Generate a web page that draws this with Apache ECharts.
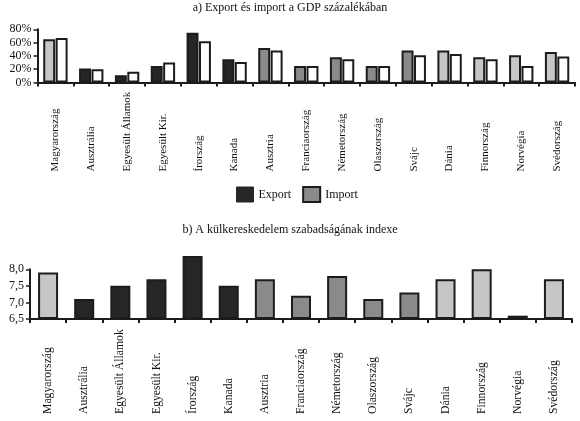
<!DOCTYPE html>
<html>
<head>
<meta charset="utf-8">
<script src="https://cdn.jsdelivr.net/npm/echarts@6/dist/echarts.min.js"></script>
<style>
  html, body { margin: 0; padding: 0; background: #fff; }
  #chart { width: 580px; height: 421px; }
</style>
</head>
<body>
<div id="chart"></div>
<script>
const countries = ['Magyarország', 'Ausztrália', 'Egyesült Államok', 'Egyesült Kir.', 'Írország', 'Kanada',
    'Ausztria', 'Franciaország', 'Németország', 'Olaszország', 'Svájc',
    'Dánia', 'Finnország', 'Norvégia', 'Svédország']
const groups = ['hu', 'ang', 'ang', 'ang', 'ang', 'ang', 'kont', 'kont', 'kont', 'kont', 'kont', 'nord', 'nord', 'nord', 'nord']
const exportShare = [65, 21, 11, 25, 75, 35, 52, 25, 38, 25, 48, 48, 38, 41, 46]
const importShare = [67, 20, 16, 30, 62, 31, 48, 25, 35, 25, 41, 43, 35, 25, 39]
const freedomIndex = [7.9, 7.1, 7.5, 7.7, 8.4, 7.5, 7.7, 7.2, 7.8, 7.1, 7.3, 7.7, 8.0, 6.6, 7.7]
const ticksA = [0, 20, 40, 60, 80]
const ticksB = [6.5, 7.0, 7.5, 8.0]

const groupColor = { hu: '#c6c6c6', ang: '#262626', kont: '#8a8a8a', nord: '#c6c6c6' }
const ink = '#1c1c1c'
const serif = '"Liberation Serif", "DejaVu Serif", serif'

// the index axis starts at 6,5: bars are measured from there so they rise from the axis line
const baseB = ticksB[0]

const chart = echarts.init(document.getElementById('chart'))

const xAxisBase = (gridIndex, fontSize, margin) => ({
    type: 'category',
    gridIndex,
    data: countries,
    axisLine: { lineStyle: { color: ink, width: 2 } },
    axisTick: { show: true, length: 4, alignWithLabel: false, lineStyle: { color: ink, width: 2 } },
    axisLabel: {
        interval: 0,
        rotate: 90,
        align: 'left',
        margin,
        color: '#111',
        fontFamily: serif,
        fontSize,
    },
})

const yAxisBase = (gridIndex, min, max, interval, fmt, fontSize) => ({
    type: 'value',
    gridIndex,
    min,
    max,
    interval,
    splitLine: { show: false },
    axisLine: { show: true, lineStyle: { color: ink, width: 2 } },
    axisTick: { show: true, length: 4, lineStyle: { color: ink, width: 1.5 } },
    axisLabel: { formatter: fmt, color: '#111', fontFamily: serif, fontSize, margin: 6 },
})

const option = {
    animation: false,
    backgroundColor: '#fff',
    textStyle: { fontFamily: serif },
    title: [
        {
            text: 'a) Export és import a GDP százalékában',
            left: 'center',
            top: -3,
            textStyle: { fontFamily: serif, fontSize: 12, fontWeight: 'normal', color: '#111' },
        },
        {
            text: 'b) A külkereskedelem szabadságának indexe',
            left: 'center',
            top: 219,
            textStyle: { fontFamily: serif, fontSize: 12, fontWeight: 'normal', color: '#111' },
        },
    ],
    legend: {
        left: 231,
        top: 181,
        itemWidth: 17,
        itemHeight: 15,
        itemGap: 11,
        icon: 'rect',
        textStyle: { fontFamily: serif, fontSize: 12, color: '#111' },
        data: [
            { name: 'Export', itemStyle: { color: '#262626', borderColor: '#262626', borderWidth: 1 } },
            { name: 'Import', itemStyle: { color: '#8a8a8a', borderColor: ink, borderWidth: 2 } },
        ],
    },
    grid: [
        { left: 37.5, right: 5, top: 29.3, height: 53.2, outerBoundsMode: 'none' },
        { left: 30, right: 8, top: 269.3, height: 49.7, outerBoundsMode: 'none' },
    ],
    xAxis: [xAxisBase(0, 11, 89), xAxisBase(1, 11.7, 95)],
    yAxis: [
        yAxisBase(0, ticksA[0], ticksA[ticksA.length - 1], 20, v => v + '%', 12),
        yAxisBase(1, 0, ticksB[ticksB.length - 1] - baseB, 0.5, v => (v + baseB).toFixed(1).replace('.', ','), 12),
    ],
    series: [
        {
            name: 'Export',
            type: 'bar',
            xAxisIndex: 0,
            yAxisIndex: 0,
            barGap: '4%',
            barCategoryGap: '32%',
            itemStyle: { color: '#262626', borderColor: ink, borderWidth: 2 },
            data: exportShare.map((v, i) => ({ value: v, itemStyle: { color: groupColor[groups[i]] } })),
        },
        {
            name: 'Import',
            type: 'bar',
            xAxisIndex: 0,
            yAxisIndex: 0,
            barGap: '4%',
            barCategoryGap: '32%',
            itemStyle: { color: '#fff', borderColor: ink, borderWidth: 2 },
            data: importShare,
        },
        {
            name: 'Index',
            type: 'bar',
            xAxisIndex: 1,
            yAxisIndex: 1,
            clip: false,
            barWidth: 20,
            itemStyle: { borderColor: ink, borderWidth: 2 },
            data: freedomIndex.map((v, i) => ({
                value: +(v - baseB).toFixed(2),
                itemStyle: { color: groupColor[groups[i]] },
            })),
        },
    ],
}

chart.setOption(option)
</script>
</body>
</html>
